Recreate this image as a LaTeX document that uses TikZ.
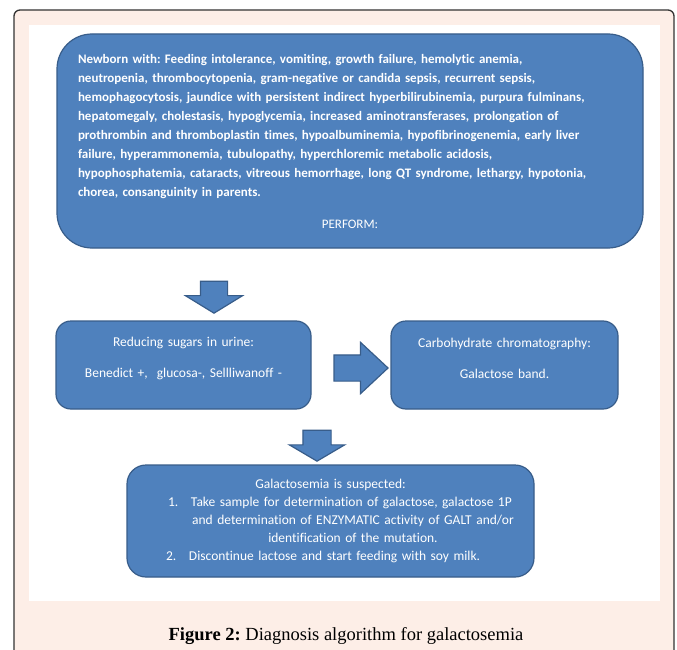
\documentclass[tikz,border=0pt]{standalone}
\usepackage{fontspec}
\setmainfont{Carlito}[Ligatures=NoCommon]
\newfontfamily\capfont{Liberation Serif}
\usetikzlibrary{shapes.arrows}
\definecolor{boxblue}{HTML}{4F81BD}
\definecolor{boxedge}{HTML}{385D8A}
\definecolor{framepink}{HTML}{FDEEE7}
\frenchspacing

\begin{document}
\begin{tikzpicture}[x=1pt, y=-1pt,
	algbox/.style={draw=boxedge, line width=1.2pt, fill=boxblue, text=white, inner sep=0pt},
	smallbox/.style={algbox, rounded corners=15pt, minimum height=88, align=center, font=\fontsize{13.5}{18}\selectfont},
	blockarrow/.style={single arrow, draw=boxedge, line width=1.2pt, fill=boxblue, inner xsep=0pt, single arrow head indent=0pt}]
	\useasboundingbox (0,0) rectangle (677,650);
	\draw[line width=1.3pt, draw=black!80, fill=framepink, rounded corners=6pt] (14,10) rectangle (674,700);
	\fill[white] (29,25) rectangle (660,601);
	\node[algbox, rounded corners=35pt, minimum width=586, minimum height=214, text width=544pt, font=\bfseries\fontsize{13}{19}\selectfont] (signs) at (350,141) {\raggedright
		Newborn with: Feeding intolerance, vomiting, growth failure, hemolytic anemia,\\
		neutropenia, thrombocytopenia, gram-negative or candida sepsis, recurrent sepsis,\\
		hemophagocytosis, jaundice with persistent indirect hyperbilirubinemia, purpura fulminans,\\
		hepatomegaly, cholestasis, hypoglycemia, increased aminotransferases, prolongation of\\
		prothrombin and thromboplastin times, hypoalbuminemia, hypofibrinogenemia, early liver\\
		failure, hyperammonemia, tubulopathy, hyperchloremic metabolic acidosis,\\
		hypophosphatemia, cataracts, vitreous hemorrhage, long QT syndrome, lethargy, hypotonia,\\
		chorea, consanguinity in parents.\par\vspace{13pt}
		\centering\mdseries PERFORM:\par};
	\node[blockarrow, rotate=-90, minimum height=32, inner ysep=13pt, single arrow head extend=15pt, single arrow tip angle=117] (down1) at (214,293) {};
	\node[smallbox, minimum width=255, text width=240pt] (urine) at (183.5,365) {Reducing sugars in urine:\par\vspace{13pt}Benedict +,\ \ glucosa-, Sellliwanoff -\par\vspace{13pt}};
	\node[blockarrow, minimum height=54, inner ysep=12.5pt, single arrow head extend=12.5pt, single arrow tip angle=86] (right1) at (354,368) {};
	\node[smallbox, minimum width=227, text width=215pt] (chroma) at (504.5,365) {Carbohydrate chromatography:\par\vspace{13pt}Galactose band.\par\vspace{13pt}};
	\node[blockarrow, rotate=-90, minimum height=31, inner ysep=13.5pt, single arrow head extend=13.5pt, single arrow tip angle=119] (down2) at (317,441.5) {};
	\node[algbox, rounded corners=19pt, minimum width=407, minimum height=112, text width=407pt, align=left, font=\fontsize{13.5}{18}\selectfont] (galt) at (330.5,521) {%
		\makebox[407pt]{Galactosemia is suspected:}\\
		\hspace*{41pt}\makebox[23pt][l]{1.}\makebox[324pt][l]{Take sample for determination of galactose, galactose 1P}\\
		\hspace*{64pt}\makebox[324pt]{and determination of ENZYMATIC activity of GALT and/or}\\
		\hspace*{64pt}\makebox[324pt]{identification of the mutation.}\\
		\hspace*{39pt}\makebox[23pt][l]{2.}Discontinue lactose and start feeding with soy milk.};
	\node[font=\capfont\fontsize{18.5}{22}\selectfont] (caption) at (346,636) {\textbf{Figure 2:} Diagnosis algorithm for galactosemia};
\end{tikzpicture}
\end{document}
